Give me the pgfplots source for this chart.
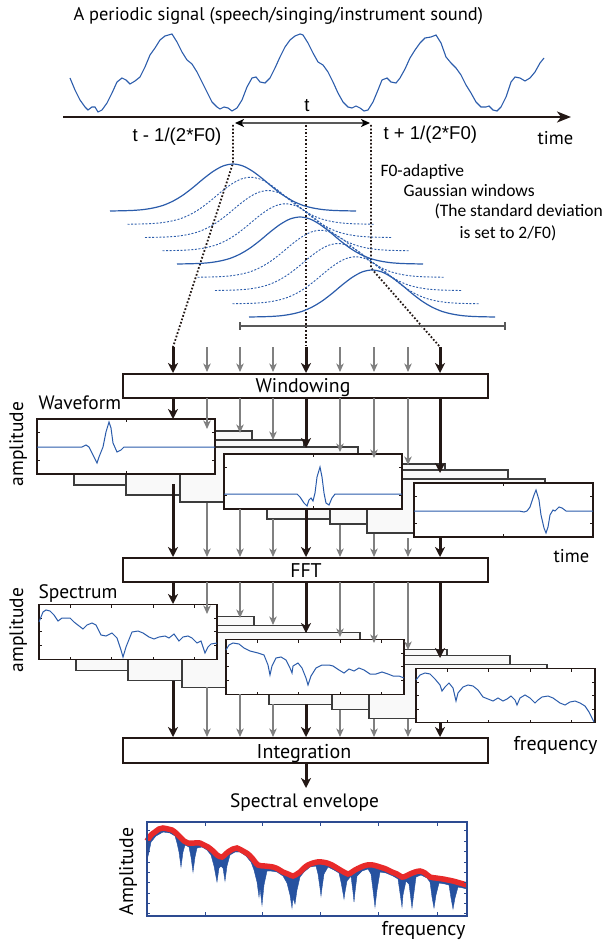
\documentclass[border=0pt]{standalone}
\usepackage{fontspec}
\setmainfont{PT Sans}
\newfontfamily\arialf{Liberation Sans}
\newfontfamily\calf{Carlito}
\usepackage{pgfplots}
\pgfplotsset{compat=1.18}
\usepackage{pgfplotstable}
\usetikzlibrary{arrows.meta}
\definecolor{sigblue}{RGB}{43,92,171}
\definecolor{kblack}{RGB}{35,24,21}
\definecolor{agray}{RGB}{128,128,128}
\definecolor{fillblue}{RGB}{38,82,160}
\definecolor{envred}{RGB}{232,42,42}
\definecolor{framebl}{RGB}{45,75,145}
\definecolor{bbfill}{RGB}{249,249,249}
\definecolor{bbdraw}{RGB}{60,60,60}
\newcommand\fs[1]{\fontsize{#1}{#1}\selectfont}

% Gaussian window shape (offset from centre, height in px)
\pgfplotstableread{
dx h
-123 0
-110 0.25
-100 0.6
-90 1.4
-80 3
-70 5.6
-60 9.9
-50 15.9
-40 23.5
-30 31.9
-20 39.5
-10 45
0 47
10 45
20 39.5
30 31.9
40 23.5
50 15.9
60 9.9
70 5.6
80 3
90 1.4
100 0.6
110 0.25
123 0
}\gausstab

\newcommand\gauss[3]{\addplot[#1, smooth] table[x expr=\thisrow{dx}+#2, y expr=#3-\thisrow{h}] {\gausstab};}
\newcommand\arr[4]{\draw[#1] (axis cs:#2,#3) -- (axis cs:#2,#4);}
\newcommand\bkbox[4]{\draw[bbdraw, line width=1.3pt, fill=bbfill] (axis cs:#1,#2) rectangle (axis cs:#3,#4);}
\newcommand\frbox[4]{\draw[kblack, line width=1.6pt, fill=white] (axis cs:#1,#2) rectangle (axis cs:#3,#4);}
\newcommand\wticks[4]{%
 \draw[kblack, line width=0.6pt] (axis cs:{(#1+#3)/2},#2) -- (axis cs:{(#1+#3)/2},{#2+3})
   (axis cs:{(#1+#3)/2},#4) -- (axis cs:{(#1+#3)/2},{#4-3})
   (axis cs:#1,{#2+(#4-#2)*0.25}) -- (axis cs:{#1+3},{#2+(#4-#2)*0.25})
   (axis cs:#1,{#2+(#4-#2)*0.75}) -- (axis cs:{#1+3},{#2+(#4-#2)*0.75})
   (axis cs:#3,{#2+(#4-#2)*0.25}) -- (axis cs:{#3-3},{#2+(#4-#2)*0.25})
   (axis cs:#3,{#2+(#4-#2)*0.75}) -- (axis cs:{#3-3},{#2+(#4-#2)*0.75});}
\newcommand\sticks[4]{%
 \draw[kblack, line width=0.6pt]
   (axis cs:{#1+31},#2) -- (axis cs:{#1+31},{#2+3}) (axis cs:{#1+72},#2) -- (axis cs:{#1+72},{#2+3})
   (axis cs:{#1+114},#2) -- (axis cs:{#1+114},{#2+3}) (axis cs:{#1+155},#2) -- (axis cs:{#1+155},{#2+3})
   (axis cs:{#1+31},#4) -- (axis cs:{#1+31},{#4-3}) (axis cs:{#1+72},#4) -- (axis cs:{#1+72},{#4-3})
   (axis cs:{#1+114},#4) -- (axis cs:{#1+114},{#4-3}) (axis cs:{#1+155},#4) -- (axis cs:{#1+155},{#4-3})
   (axis cs:#1,{#2+13.5}) -- (axis cs:{#1+3},{#2+13.5}) (axis cs:#1,{#2+27}) -- (axis cs:{#1+3},{#2+27})
   (axis cs:#1,{#2+40.5}) -- (axis cs:{#1+3},{#2+40.5})
   (axis cs:#3,{#2+13.5}) -- (axis cs:{#3-3},{#2+13.5}) (axis cs:#3,{#2+27}) -- (axis cs:{#3-3},{#2+27})
   (axis cs:#3,{#2+40.5}) -- (axis cs:{#3-3},{#2+40.5});}

\begin{document}
\begin{tikzpicture}[
  blk/.style={kblack, line width=3pt, -{Stealth[length=10pt,width=10pt,inset=3pt]}},
  gry/.style={agray, line width=1.5pt, -{Stealth[length=8.5pt,width=7.5pt,inset=2.5pt]}},
  dots/.style={kblack, line width=1.8pt, dash pattern=on 1.7pt off 1.9pt},
]
\begin{axis}[name=mainax, width=607pt, height=941pt, scale only axis,
  xmin=0, xmax=607, ymin=0, ymax=941, y dir=reverse, hide axis, clip=false]

% ---------- top periodic signal ----------
\node[anchor=base west, font={\fs{18.4}}] at (axis cs:70,21) {A periodic signal (speech/singing/instrument sound)};
\addplot[sigblue, line width=1.1pt] coordinates {(70,78)(75,90)(80,100)(85,107)(88,110)(92,107)(95,107)(98,112)(102,110)(107,103)(112,93)(117,82)(122,78)(126,80)(130,84)(135,81)(140,77)(145,67)(150,55)(155,48)(160,40)(165,36)(172,34)(177,42)(182,52)(187,60)(192,64)(197,72)(202,82)(207,92)(212,102)(217,107)(220,109)(224,107)(228,108)(232,111)(237,108)(242,100)(247,87)(252,78)(256,77)(260,82)(265,83)(270,78)(275,68)(280,57)(285,47)(290,40)(295,36)(300,34)(303,35)(308,43)(313,53)(318,62)(323,65)(328,72)(333,82)(338,93)(343,102)(348,107)(352,108)(356,106)(360,108)(364,111)(368,110)(373,102)(378,90)(382,80)(387,78)(391,82)(396,83)(400,78)(405,69)(410,58)(415,50)(420,43)(425,38)(431,37)(436,35)(441,43)(446,57)(451,63)(456,68)(461,75)(466,85)(471,93)(476,102)(481,107)(486,107)(489,106)(493,110)(497,111)(501,107)(506,97)(511,82)(515,77)(520,78)(525,81)(530,78)(535,72)(540,63)(544,58)};
\draw[kblack, line width=2.4pt, -{Stealth[length=14pt,width=11pt,inset=4pt]}] (axis cs:63,117) -- (axis cs:571,117);
\draw[black!65, line width=2pt, {Stealth[black,length=9pt,width=8pt,inset=2.5pt]}-{Stealth[black,length=9pt,width=8pt,inset=2.5pt]}] (axis cs:235,123) -- (axis cs:370,123);
\node[anchor=base, font={\arialf\fs{18.6}}] at (axis cs:307,112) {t};
\node[anchor=base west, font={\arialf\fs{18.6}}] at (axis cs:129,142) {t - 1/(2*F0)};
\node[anchor=base west, font={\arialf\fs{18.6}}] at (axis cs:380,140) {t + 1/(2*F0)};
\node[anchor=base west, font={\fs{18.5}}] at (axis cs:534,145) {time};

% ---------- dotted guides ----------
\draw[dots] (axis cs:233,125) -- (axis cs:233,163) -- (axis cs:173,347);
\draw[dots] (axis cs:306,125) -- (axis cs:306,347);
\draw[dots] (axis cs:371,125) -- (axis cs:371,268) -- (axis cs:440,347);

% ---------- Gaussian windows ----------
\gauss{sigblue, line width=1.2pt}{233}{211}
\gauss{sigblue, line width=0.9pt, dash pattern=on 2pt off 1.6pt}{250.5}{224.25}
\gauss{sigblue, line width=0.9pt, dash pattern=on 2pt off 1.6pt}{268}{237.5}
\gauss{sigblue, line width=0.9pt, dash pattern=on 2pt off 1.6pt}{285.5}{250.75}
\gauss{sigblue, line width=1.2pt}{300}{264}
\gauss{sigblue, line width=0.9pt, dash pattern=on 2pt off 1.6pt}{320.5}{277.25}
\gauss{sigblue, line width=0.9pt, dash pattern=on 2pt off 1.6pt}{338}{290.5}
\gauss{sigblue, line width=0.9pt, dash pattern=on 2pt off 1.6pt}{355.5}{303.75}
\gauss{sigblue, line width=1.2pt}{372}{317}
\draw[black!65, line width=1.2pt] (axis cs:240,322) -- (axis cs:240,330) (axis cs:240,326) -- (axis cs:505,326) (axis cs:505,322) -- (axis cs:505,330);
\node[anchor=base west, font={\calf\fs{17.5}}] at (axis cs:377,177) {F0-adaptive};
\node[anchor=base west, font={\calf\fs{17.5}}] at (axis cs:400,197) {Gaussian windows};
\node[anchor=base west, font={\calf\fs{17.5}}] at (axis cs:431,217) {(The standard deviation};
\node[anchor=base west, font={\calf\fs{17.5}}] at (axis cs:456,238) {is set to 2/F0)};

% ---------- Windowing ----------
\arr{blk}{173}{347}{373}
\arr{gry}{207}{347}{372}
\arr{gry}{240}{347}{372}
\arr{gry}{273}{347}{372}
\arr{blk}{306}{347}{373}
\arr{gry}{340}{347}{372}
\arr{gry}{374}{347}{372}
\arr{gry}{408}{347}{372}
\arr{blk}{440}{347}{373}
\draw[kblack, line width=2pt, fill=white] (axis cs:123,374) rectangle (axis cs:488,398);
\node[anchor=base, font={\fs{19.8}}] at (axis cs:303,392) {Windowing};

% ---------- waveform stack ----------
\bkbox{74}{431}{252}{485}
\bkbox{126}{440}{304}{495}
\bkbox{180}{447}{358}{502}
\frbox{37}{419}{215}{474}
\wticks{37}{419}{215}{474}
\addplot[sigblue, line width=1pt] coordinates {(37,447)(82,447)(86,445)(89,447)(93,455)(97,463)(99,457)(101,452)(103,447)(106,432)(109,422)(111,428)(113,443)(117,452)(121,450)(124,447)(215,447)};
\bkbox{267}{464}{445}{519}
\bkbox{330}{470}{508}{524}
\bkbox{367}{479}{545}{533}
\frbox{224}{454}{402}{509}
\wticks{224}{454}{402}{509}
\addplot[sigblue, line width=1pt] coordinates {(224,494)(294,494)(297,494)(300,497)(304,503)(307,506)(309,500)(311,498)(313,501)(315,493)(317,477)(320,467)(322,477)(324,493)(326,503)(329,505)(332,498)(335,494)(402,494)};
\frbox{414}{483}{593}{537}
\wticks{414}{483}{593}{537}
\addplot[sigblue, line width=1pt] coordinates {(414,511)(519,511)(524,512)(527,511)(530,507)(534,495)(536,490)(539,500)(541,515)(544,528)(546,533)(548,527)(550,515)(553,510)(555,511)(559,507)(562,508)(566,511)(593,511)};
\node[anchor=base west, font={\fs{19.4}}] at (axis cs:35,409) {Waveform};
\node[anchor=base, rotate=90, font={\fs{19.5}}] at (axis cs:23,444) {amplitude};
\node[anchor=base west, font={\fs{18.5}}] at (axis cs:550,562) {time};

\arr{blk}{173}{398}{419}
\arr{gry}{207}{398}{429}
\arr{gry}{240}{398}{433}
\arr{gry}{273}{398}{440}
\arr{blk}{306}{398}{448}
\arr{gry}{340}{398}{452}
\arr{gry}{374}{398}{458}
\arr{gry}{408}{398}{465}
\arr{blk}{440}{398}{473}

\arr{blk}{173}{484}{557}
\arr{gry}{207}{503}{557}
\arr{gry}{240}{509}{557}
\arr{gry}{273}{519}{557}
\arr{blk}{306}{510}{557}
\arr{gry}{340}{525}{557}
\arr{gry}{374}{534}{557}
\arr{gry}{408}{538}{557}
\arr{blk}{440}{538}{557}

% ---------- FFT ----------
\draw[kblack, line width=2pt, fill=white] (axis cs:123,558) rectangle (axis cs:488,582);
\node[anchor=base, font={\fs{19.8}}] at (axis cs:306,577) {FFT};

% ---------- spectrum stack ----------
\bkbox{76}{616.5}{254}{670.5}
\bkbox{128}{625.5}{306}{680.5}
\bkbox{182}{632.5}{360}{687.5}
\frbox{39}{604.5}{217}{659.5}
\sticks{39}{604.5}{217}{659.5}
\addplot[sigblue, line width=1pt] coordinates {(39,622)(43,612)(46,610)(50,611)(54,615)(58,621)(62,618)(70,618)(74,622)(83,629)(87,625)(92,623)(96,625)(101,635)(106,636)(112,633)(117,638)(121,650)(123,657)(126,647)(132,632)(138,631)(143,633)(149,637)(154,639)(159,637)(165,636)(169,638)(174,634)(179,641)(183,637)(188,636)(192,638)(197,643)(201,641)(203,647)(205,653)(208,647)(211,644)(217,643)};
\bkbox{269}{649.5}{447}{704.5}
\bkbox{332}{655.5}{510}{709.5}
\bkbox{369}{664.5}{547}{718.5}
\frbox{226}{639.5}{404}{694.5}
\sticks{226}{639.5}{404}{694.5}
\addplot[sigblue, line width=1pt] coordinates {(226,650)(229,645)(233,643)(239,644)(244,648)(250,651)(258,653)(264,655)(268,665)(270,675)(272,666)(276,658)(281,657)(286,660)(290,668)(292,673)(293,666)(298,663)(302,668)(306,678)(308,685)(311,676)(316,668)(322,665)(329,665)(333,666)(339,670)(344,673)(349,669)(354,671)(359,668)(364,670)(370,674)(376,674)(382,672)(388,674)(393,676)(399,676)(404,678)};
\frbox{416}{668.5}{595}{722.5}
\sticks{416}{668.5}{595}{722.5}
\addplot[sigblue, line width=1pt] coordinates {(416,680)(420,675)(425,673)(430,674)(435,679)(440,685)(442,691)(445,687)(449,683)(453,688)(456,701)(458,693)(463,687)(468,685)(473,686)(478,690)(483,697)(488,699)(493,701)(498,698)(503,701)(507,699)(511,696)(515,700)(517,705)(520,698)(525,695)(530,698)(535,703)(538,700)(542,697)(548,696)(553,698)(560,703)(565,705)(570,702)(575,701)(580,703)(585,706)(589,712)(592,718)(594,722)};
\node[anchor=base west, font={\fs{19.5}}] at (axis cs:35,598) {Spectrum};
\node[anchor=base, rotate=90, font={\fs{19.5}}] at (axis cs:23,630) {amplitude};
\node[anchor=base west, font={\fs{20}}] at (axis cs:510,750) {frequency};

\arr{blk}{173}{582}{604}
\arr{gry}{207}{582}{614}
\arr{gry}{240}{582}{618}
\arr{gry}{273}{582}{625}
\arr{blk}{306}{582}{633}
\arr{gry}{340}{582}{637}
\arr{gry}{374}{582}{643}
\arr{gry}{408}{582}{650}
\arr{blk}{440}{582}{658}

\arr{blk}{173}{681}{737}
\arr{gry}{207}{687}{737}
\arr{gry}{240}{694}{737}
\arr{gry}{273}{704}{737}
\arr{blk}{306}{704}{737}
\arr{gry}{340}{710}{737}
\arr{gry}{374}{719}{737}
\arr{gry}{408}{719}{737}
\arr{blk}{440}{723}{737}

% ---------- Integration ----------
\draw[kblack, line width=2pt, fill=white] (axis cs:123,738) rectangle (axis cs:488,763);
\node[anchor=base, font={\fs{20}}] at (axis cs:304,758) {Integration};
\arr{blk}{306}{763}{788}
\node[anchor=base, font={\fs{19.4}}] at (axis cs:304.5,807) {Spectral envelope};

% ---------- final spectral envelope plot ----------
\addplot[fill=fillblue, draw=fillblue, line width=0.4pt] coordinates {(147,860)(149,852)(151,842)(156,836)(163,832)(170,833)(175,836)(177,843)(179,852)(181,867)(183,852)(185,845)(189,847)(191,857)(193,872)(195,857)(197,848)(202,847)(207,850)(211,855)(214,866)(217,882)(219,868)(221,866)(223,868)(225,881)(227,866)(230,855)(235,852)(240,852)(246,856)(251,862)(254,870)(257,882)(259,897)(260,888)(262,905)(264,885)(267,871)(271,871)(277,872)(283,876)(287,883)(290,895)(292,908)(293,898)(295,904)(297,890)(300,877)(304,872)(310,867)(316,866)(318,874)(320,888)(321,896)(322,888)(324,874)(328,867)(334,870)(339,873)(341,882)(343,893)(344,899)(345,892)(347,881)(351,876)(353,892)(354,902)(355,892)(357,876)(362,871)(368,869)(371,874)(373,890)(375,907)(377,890)(380,872)(386,873)(393,876)(398,879)(400,893)(402,907)(403,895)(406,881)(409,884)(411,900)(412,908)(413,900)(416,877)(421,875)(427,878)(430,882)(432,897)(434,908)(436,895)(439,883)(445,884)(449,885)(451,898)(453,909)(455,898)(458,887)(463,888)(467,889)(467,885)(460,883)(453,881)(448,880)(443,879)(436,878)(430,877)(425,873)(420,871)(415,872)(410,874)(406,876)(402,877)(397,874)(392,872)(386,869)(380,867)(373,865)(367,865)(361,867)(355,870)(352,872)(348,874)(342,871)(337,868)(332,865)(327,863)(322,862)(317,862)(313,863)(308,865)(304,868)(300,872)(297,874)(293,876)(288,874)(283,872)(278,869)(273,867)(265,866)(258,865)(252,858)(248,854)(243,851)(237,848)(233,849)(228,852)(222,857)(217,855)(213,851)(208,847)(204,845)(200,843)(194,843)(188,843)(184,841)(180,837)(176,833)(172,830)(168,829)(163,828)(159,829)(155,832)(151,835)(147,841)};
\addplot[envred, line width=5.5pt, smooth] coordinates {(147,841)(151,835)(155,832)(159,829)(163,828)(168,829)(172,830)(176,833)(180,837)(184,841)(188,843)(194,843)(200,843)(204,845)(208,847)(213,851)(217,855)(222,857)(228,852)(233,849)(237,848)(243,851)(248,854)(252,858)(258,865)(265,866)(273,867)(278,869)(283,872)(288,874)(293,876)(297,874)(300,872)(304,868)(308,865)(313,863)(317,862)(322,862)(327,863)(332,865)(337,868)(342,871)(348,874)(352,872)(355,870)(361,867)(367,865)(373,865)(380,867)(386,869)(392,872)(397,874)(402,877)(406,876)(410,874)(415,872)(420,871)(425,873)(430,877)(436,878)(443,879)(448,880)(453,881)(460,883)(467,885)};
\draw[framebl, line width=1.2pt] (axis cs:147,822) rectangle (axis cs:467,916);
\pgfplotsinvokeforeach{205,262,320,378,437}{\draw[framebl, line width=0.7pt] (axis cs:#1,822) -- (axis cs:#1,826) (axis cs:#1,916) -- (axis cs:#1,912);}
\pgfplotsinvokeforeach{830,841,851,862,872,882,893,903,913}{\draw[framebl, line width=0.7pt] (axis cs:147,#1) -- (axis cs:150,#1) (axis cs:467,#1) -- (axis cs:464,#1);}
\node[anchor=base, rotate=90, font={\fs{19.8}}] at (axis cs:133,871.5) {Amplitude};
\node[anchor=base west, font={\fs{20}}] at (axis cs:378,935) {frequency};
\end{axis}
\pgfresetboundingbox
\path[use as bounding box] (mainax.south west) rectangle (mainax.north east);
\end{tikzpicture}
\end{document}
